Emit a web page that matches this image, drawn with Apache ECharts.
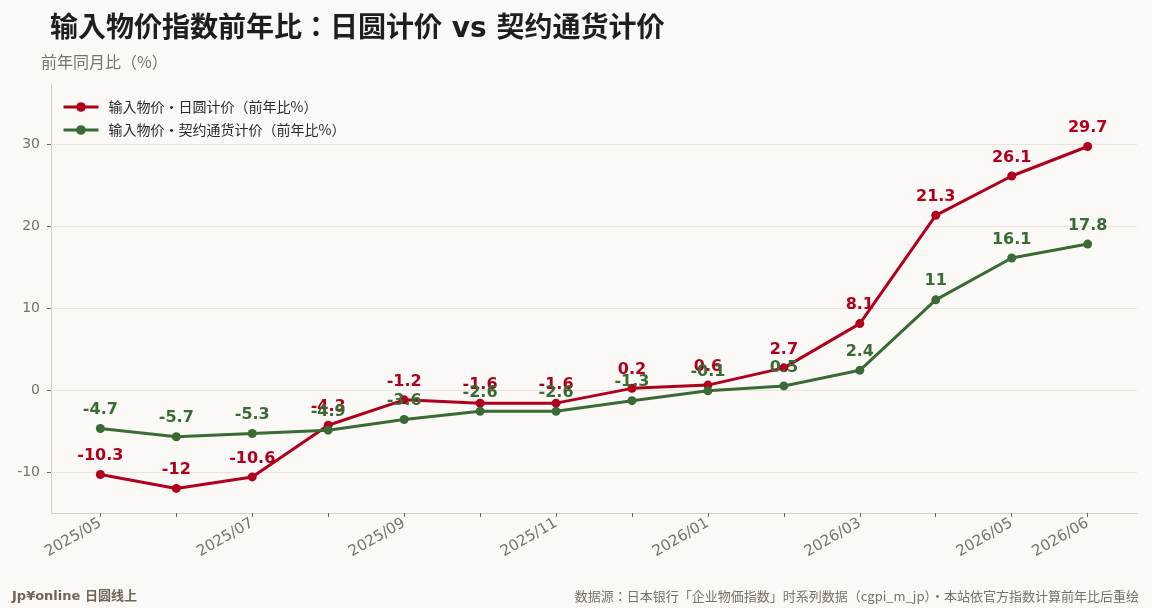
<!DOCTYPE html>
<html>
<head>
<meta charset="utf-8">
<script src="https://cdn.jsdelivr.net/npm/echarts@6/dist/echarts.min.js"></script>
<style>
  html, body { margin: 0; padding: 0; background: #fbf9f6; }
  #chart { width: 1152px; height: 608px; }
</style>
</head>
<body>
<div id="chart"></div>
<script>
// months (x categories)
var months = ['2025/05', '2025/06', '2025/07', '2025/08', '2025/09', '2025/10', '2025/11',
  '2025/12', '2026/01', '2026/02', '2026/03', '2026/04', '2026/05', '2026/06'];
// import price index yoy, yen basis
var yenBasis = [-10.3, -12, -10.6, -4.3, -1.2, -1.6, -1.6, 0.2, 0.6, 2.7, 8.1, 21.3, 26.1, 29.7];
// import price index yoy, contract currency basis
var contractBasis = [-4.7, -5.7, -5.3, -4.9, -3.6, -2.6, -2.6, -1.3, -0.1, 0.5, 2.4, 11, 16.1, 17.8];
// which months get a label
var shownMonths = [0, 2, 4, 6, 8, 10, 12, 13];
var yTicks = [-10, 0, 10, 20, 30];

var RED = '#b0001e';
var GREEN = '#3a6b35';
var GRAY = '#7a7268';
var JP = 'Noto Sans CJK JP';

function toPoints(arr) {
  return arr.map(function (v, i) { return [i, v]; });
}

function labelStyle(color) {
  return {
    show: true,
    position: 'top',
    distance: 6,
    color: color,
    fontFamily: 'DejaVu Sans',
    fontWeight: 'bold',
    fontSize: 16
  };
}

var chart = echarts.init(document.getElementById('chart'));

var option = {
  backgroundColor: '#fbf9f6',
  animation: false,
  title: [
    {
      text: '输入物价指数前年比：日圆计价 vs 契约通货计价',
      left: 45, top: 11,
      textStyle: { fontFamily: 'DejaVu Sans, ' + JP, fontWeight: 'bold', fontSize: 28, color: '#1e1e1e' }
    },
    {
      text: '前年同月比（%）',
      left: 36, top: 49,
      textStyle: { fontFamily: JP, fontWeight: 'normal', fontSize: 16, color: GRAY }
    },
    {
      text: 'Jp¥online 日圆线上',
      left: 7, top: 585,
      textStyle: { fontFamily: 'DejaVu Sans, ' + JP, fontWeight: 'bold', fontSize: 13, color: '#6f6555' }
    },
    {
      text: '数据源：日本银行「企业物価指数」时系列数据（cgpi_m_jp）・本站依官方指数计算前年比后重绘',
      right: 8, top: 585,
      textStyle: { fontFamily: JP, fontWeight: 'normal', fontSize: 13, color: GRAY }
    }
  ],
  legend: {
    left: 57, top: 95,
    orient: 'vertical',
    itemWidth: 35, itemHeight: 12, itemGap: 9,
    lineStyle: { width: 3 },
    textStyle: { fontFamily: JP, fontSize: 14, color: '#2a2a2a', padding: [0, 0, 0, 5] },
    data: ['输入物价・日圆计价（前年比%）', '输入物价・契约通货计价（前年比%）']
  },
  grid: { left: 51, right: 15, top: 85, bottom: 95 },
  xAxis: {
    type: 'value',
    min: -0.65, max: 13.65,
    axisLine: { show: true, onZero: false, lineStyle: { color: '#d6cfc8', width: 1 } },
    axisTick: { show: true, customValues: months.map(function (m, i) { return i; }), length: 4, lineStyle: { color: '#6b6660' } },
    axisLabel: {
      customValues: shownMonths,
      rotate: 30,
      fontFamily: 'DejaVu Sans',
      fontSize: 15,
      color: GRAY,
      margin: 9,
      formatter: function (v) { return months[Math.round(v)]; }
    },
    splitLine: { show: false }
  },
  yAxis: {
    type: 'value',
    min: -15, max: 37.2,
    axisLine: { show: true, onZero: false, lineStyle: { color: '#d6cfc8', width: 1 } },
    axisTick: { show: true, customValues: yTicks, length: 4, lineStyle: { color: '#6b6660' } },
    axisLabel: { customValues: yTicks, fontFamily: 'DejaVu Sans', fontSize: 14, color: GRAY, margin: 11 },
    splitLine: { show: false }
  },
  series: [
    {
      name: '输入物价・日圆计价（前年比%）',
      type: 'line',
      data: toPoints(yenBasis),
      color: RED,
      lineStyle: { width: 3, color: RED },
      symbol: 'circle', symbolSize: 9,
      itemStyle: { color: RED },
      label: labelStyle(RED),
      z: 3,
      markLine: {
        silent: true,
        symbol: 'none',
        label: { show: false },
        lineStyle: { color: '#efe2dd', width: 1, type: 'solid' },
        data: yTicks.map(function (t) { return { yAxis: t }; }),
        z: 1
      }
    },
    {
      name: '输入物价・契约通货计价（前年比%）',
      type: 'line',
      data: toPoints(contractBasis),
      color: GREEN,
      lineStyle: { width: 3, color: GREEN },
      symbol: 'circle', symbolSize: 9,
      itemStyle: { color: GREEN },
      label: labelStyle(GREEN),
      z: 4
    }
  ]
};

chart.setOption(option);
</script>
</body>
</html>
